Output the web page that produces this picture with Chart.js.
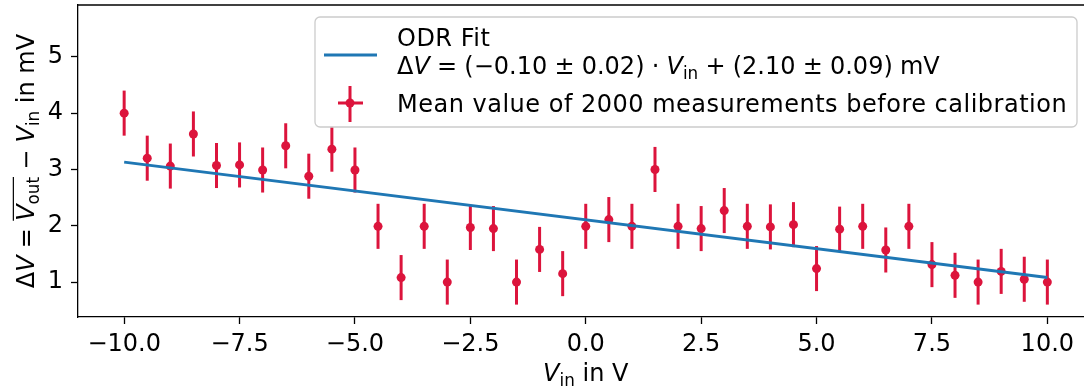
<!DOCTYPE html>
<html>
<head>
<meta charset="utf-8">
<script src="https://cdn.jsdelivr.net/npm/chart.js@4.4.1/dist/chart.umd.min.js"></script>
<style>
  body { margin: 0; background: #fff; }
  #wrap { width: 1084px; height: 389px; overflow: hidden; }
</style>
</head>
<body>
<div id="wrap"><canvas id="odrChart" width="1092" height="389"></canvas></div>
<script>
// ---- data ----
const xValues = [-10, -9.5, -9, -8.5, -8, -7.5, -7, -6.5, -6, -5.5, -5, -4.5, -4, -3.5, -3, -2.5, -2, -1.5, -1, -0.5,
                 0, 0.5, 1, 1.5, 2, 2.5, 3, 3.5, 4, 4.5, 5, 5.5, 6, 6.5, 7, 7.5, 8, 8.5, 9, 9.5, 10];
const yValues = [4.00, 3.20, 3.06, 3.63, 3.07, 3.08, 2.99, 3.42, 2.88, 3.36, 2.99, 1.99, 1.08, 1.99, 1.00, 1.97, 1.95, 1.00, 1.58, 1.15,
                 1.99, 2.11, 1.99, 3.00, 1.99, 1.95, 2.27, 1.99, 1.98, 2.02, 1.24, 1.94, 1.99, 1.57, 1.99, 1.31, 1.12, 1.00, 1.19, 1.05, 1.00];
const yErrors = [0.40, 0.40, 0.40, 0.40, 0.40, 0.40, 0.40, 0.40, 0.40, 0.40, 0.40, 0.40, 0.40, 0.40, 0.40, 0.40, 0.40, 0.40, 0.40, 0.40,
                 0.40, 0.40, 0.40, 0.40, 0.40, 0.40, 0.40, 0.40, 0.40, 0.40, 0.40, 0.40, 0.40, 0.40, 0.40, 0.40, 0.40, 0.40, 0.40, 0.40, 0.40];
const fitX = [-10, 10];
const fitY = [3.13, 1.08];
const xTicks = [-10, -7.5, -5, -2.5, 0, 2.5, 5, 7.5, 10];
const yTicks = [1, 2, 3, 4, 5];

const RED = '#dc143c';
const BLUE = '#1f77b4';
const FS = 24;
const FONT = '"DejaVu Sans", sans-serif';

// draw text made of pieces (italic / subscript / overline), returns width
function richText(ctx, parts, x, y, size, measureOnly) {
    let cx = x;
    parts.forEach(p => {
        const s = p.sub ? size * 0.7 : size;
        ctx.font = (p.it ? 'italic ' : '') + s + 'px ' + FONT;
        const w = ctx.measureText(p.t).width;
        if (!measureOnly) {
            ctx.fillText(p.t, cx, y + (p.sub ? size * 0.22 : 0));
        }
        p._x = cx; p._w = w;
        cx += w;
    });
    return cx - x;
}

function minusFmt(v, digits) {
    const s = Math.abs(v).toFixed(digits);
    return (v < 0 ? '\u2212' : '') + s;
}

const T = '\u2009\u200a';
const eqParts = [
    {t: '\u0394'}, {t: 'V', it: true}, {t: T + '=' + T + '(\u22120.10' + T + '\u00b1' + T + '0.02)' + T + '\u00b7' + T},
    {t: 'V', it: true}, {t: 'in', sub: true}, {t: T + '+' + T + '(2.10' + T + '\u00b1' + T + '0.09)' + T + 'mV'}
];
const xLabelParts = [{t: 'V', it: true}, {t: 'in', sub: true}, {t: ' in V'}];
const yLabelParts = [
    {t: '\u0394'}, {t: 'V', it: true}, {t: T + '=' + T},
    {t: 'V', it: true, over: true}, {t: 'out', sub: true, over: true}, {t: T + '\u2212' + T},
    {t: 'V', it: true}, {t: 'in', sub: true}, {t: ' in mV'}
];

//----- error bars + frame + labels + legend -----
const extras = {
    id: 'extras',
    beforeDatasetsDraw(chart) {
        const {ctx, scales: {x, y}} = chart;
        ctx.save();
        ctx.strokeStyle = RED;
        ctx.lineWidth = 3;
        xValues.forEach((xv, i) => {
            const px = x.getPixelForValue(xv);
            ctx.beginPath();
            ctx.moveTo(px, y.getPixelForValue(yValues[i] - yErrors[i]));
            ctx.lineTo(px, y.getPixelForValue(yValues[i] + yErrors[i]));
            ctx.stroke();
        });
        ctx.restore();
    },
    afterDraw(chart) {
        const {ctx, chartArea: ca} = chart;
        ctx.save();
        // top spine
        ctx.strokeStyle = '#000';
        ctx.lineWidth = 1.3;
        ctx.beginPath();
        ctx.moveTo(ca.left, ca.top);
        ctx.lineTo(ca.right, ca.top);
        ctx.stroke();

        ctx.fillStyle = '#000';
        ctx.textBaseline = 'alphabetic';
        ctx.textAlign = 'left';

        // x label, centered on x = 0
        const cx = chart.scales.x.getPixelForValue(0);
        const wx = richText(ctx, xLabelParts, 0, 0, FS, true);
        richText(ctx, xLabelParts, cx - wx / 2, 381, FS);

        // y label, rotated
        const cy = (ca.top + ca.bottom) / 2;
        ctx.translate(34, cy);
        ctx.rotate(-Math.PI / 2);
        const wy = richText(ctx, yLabelParts, 0, 0, FS, true);
        richText(ctx, yLabelParts, -wy / 2, 0, FS);
        const ov = yLabelParts.filter(p => p.over);
        ctx.lineWidth = 1.2;
        ctx.beginPath();
        ctx.moveTo(ov[0]._x, -FS * 0.86);
        ctx.lineTo(ov[ov.length - 1]._x + ov[ov.length - 1]._w, -FS * 0.86);
        ctx.stroke();
        ctx.setTransform(1, 0, 0, 1, 0, 0);

        // legend box
        const lx = 315, ly = 17, lw = 762, lh = 110;
        ctx.beginPath();
        ctx.roundRect(lx, ly, lw, lh, 5);
        ctx.fillStyle = 'rgba(255,255,255,0.8)';
        ctx.fill();
        ctx.strokeStyle = '#cccccc';
        ctx.lineWidth = 1.3;
        ctx.stroke();

        // line sample
        ctx.strokeStyle = BLUE;
        ctx.lineWidth = 3;
        ctx.beginPath();
        ctx.moveTo(324, 55);
        ctx.lineTo(377, 55);
        ctx.stroke();

        // errorbar sample
        ctx.strokeStyle = RED;
        ctx.beginPath();
        ctx.moveTo(350, 86); ctx.lineTo(350, 122);
        ctx.moveTo(338, 103); ctx.lineTo(363, 103);
        ctx.stroke();
        ctx.fillStyle = RED;
        ctx.beginPath();
        ctx.arc(350, 103, 4.5, 0, Math.PI * 2);
        ctx.fill();

        ctx.fillStyle = '#000';
        ctx.letterSpacing = '0.5px';
        ctx.font = FS + 'px ' + FONT;
        ctx.fillText('ODR Fit', 397, 46);
        ctx.fillText('Mean value of 2000 measurements before calibration', 397, 112);
        ctx.letterSpacing = '0px';
        richText(ctx, eqParts, 397, 74, FS);
        ctx.restore();
    }
};

const ctx = document.getElementById('odrChart').getContext('2d');

const odrChart = new Chart(ctx, {
    type: 'scatter',
    data: {
        datasets: [
            {
                label: 'Mean value of 2000 measurements before calibration',
                data: xValues.map((v, i) => ({x: v, y: yValues[i]})),
                backgroundColor: RED,
                borderWidth: 0,
                pointRadius: 4.5,
                order: 2,
            },
            {
                type: 'line',
                label: 'ODR Fit',
                data: fitX.map((v, i) => ({x: v, y: fitY[i]})),
                borderColor: BLUE,
                borderWidth: 3,
                pointRadius: 0,
                fill: false,
                order: 1,
            },
        ],
    },
    options: {
        responsive: false,
        animation: false,
        devicePixelRatio: 1,
        layout: {padding: {top: 5, right: 0, left: 0, bottom: 0}},
        plugins: {legend: {display: false}, tooltip: {enabled: false}},
        scales: {
            x: {
                type: 'linear',
                min: -11,
                max: 10.87,
                afterFit: s => { s.height = 72; s.paddingLeft = 0; s.paddingRight = 0; },
                afterBuildTicks: s => { s.ticks = xTicks.map(v => ({value: v})); },
                ticks: {
                    color: '#000',
                    font: {family: FONT, size: FS},
                    padding: 6,
                    maxRotation: 0,
                    autoSkip: false,
                    callback: v => minusFmt(v, 1),
                },
                grid: {drawOnChartArea: false, tickLength: 7, tickColor: '#000', tickWidth: 1.3},
                border: {display: true, color: '#000', width: 1.3},
            },
            y: {
                min: 0.38,
                max: 5.92,
                afterFit: s => { s.width = 78; s.paddingTop = 0; s.paddingBottom = 0; },
                afterBuildTicks: s => { s.ticks = yTicks.map(v => ({value: v})); },
                ticks: {
                    color: '#000',
                    font: {family: FONT, size: FS},
                    padding: 8,
                    autoSkip: false,
                    callback: v => String(v),
                },
                grid: {drawOnChartArea: false, tickLength: 7, tickColor: '#000', tickWidth: 1.3},
                border: {display: true, color: '#000', width: 1.3},
            },
        },
    },
    plugins: [extras],
});
</script>
</body>
</html>
